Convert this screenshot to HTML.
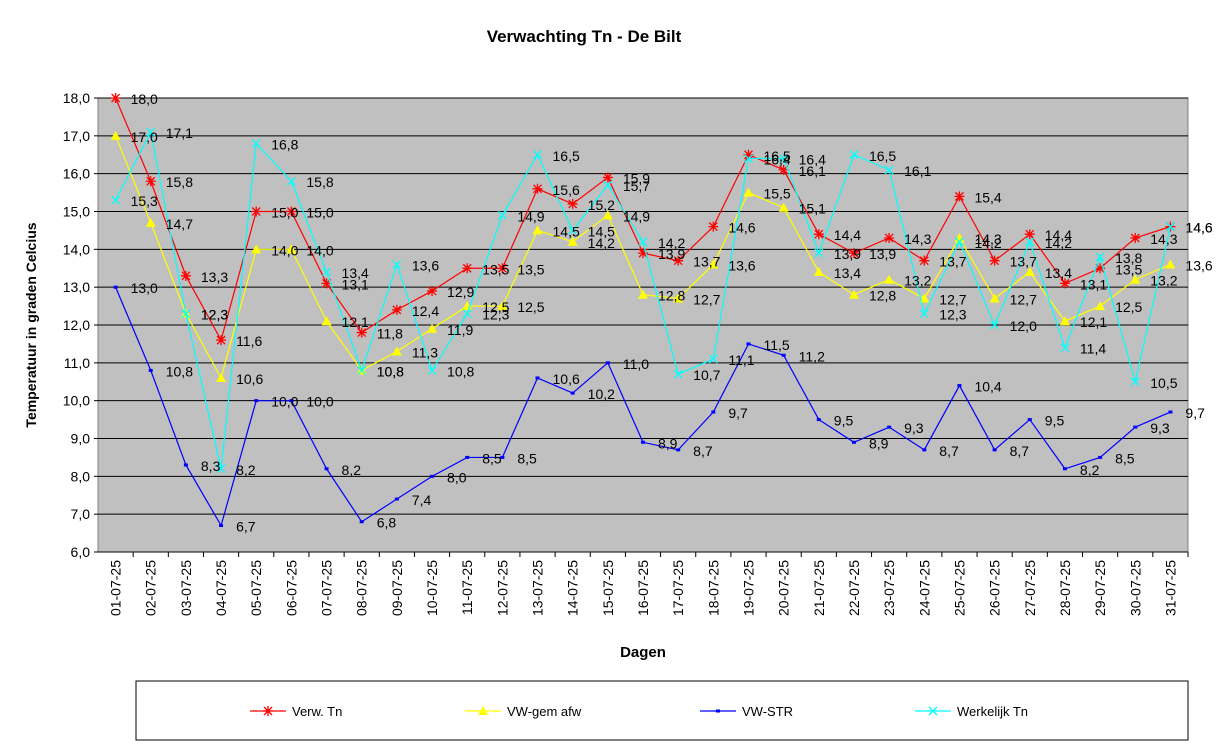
<!DOCTYPE html>
<html><head><meta charset="utf-8"><style>
body{margin:0;background:#fff;font-family:"Liberation Sans",Arial,sans-serif}
svg text{font-family:"Liberation Sans",Arial,sans-serif}
</style></head><body>
<svg id="c" width="1217" height="747" xmlns="http://www.w3.org/2000/svg">
<text x="584" y="42" text-anchor="middle" font-size="17" font-weight="bold">Verwachting Tn - De Bilt</text>
<rect x="98" y="98" width="1090" height="454" fill="#c0c0c0" stroke="#808080"/>
<g id="grid"></g><g id="axes"></g><g id="series"></g><g id="labels"></g>
<text transform="translate(36,325) rotate(-90)" text-anchor="middle" font-size="14" font-weight="bold">Temperatuur in graden Celcius</text>
<text x="643" y="657" text-anchor="middle" font-size="15" font-weight="bold">Dagen</text>
<rect x="136" y="681" width="1052" height="59" fill="#fff" stroke="#000"/>
<g id="legend"></g>
</svg>
<script>
const days=["01-07-25","02-07-25","03-07-25","04-07-25","05-07-25","06-07-25","07-07-25","08-07-25","09-07-25","10-07-25","11-07-25","12-07-25","13-07-25","14-07-25","15-07-25","16-07-25","17-07-25","18-07-25","19-07-25","20-07-25","21-07-25","22-07-25","23-07-25","24-07-25","25-07-25","26-07-25","27-07-25","28-07-25","29-07-25","30-07-25","31-07-25"];
const verwTn=[18.0,15.8,13.3,11.6,15.0,15.0,13.1,11.8,12.4,12.9,13.5,13.5,15.6,15.2,15.9,13.9,13.7,14.6,16.5,16.1,14.4,13.9,14.3,13.7,15.4,13.7,14.4,13.1,13.5,14.3,14.6];
const vwGem=[17.0,14.7,12.3,10.6,14.0,14.0,12.1,10.8,11.3,11.9,12.5,12.5,14.5,14.2,14.9,12.8,12.7,13.6,15.5,15.1,13.4,12.8,13.2,12.7,14.3,12.7,13.4,12.1,12.5,13.2,13.6];
const vwStr=[13.0,10.8,8.3,6.7,10.0,10.0,8.2,6.8,7.4,8.0,8.5,8.5,10.6,10.2,11.0,8.9,8.7,9.7,11.5,11.2,9.5,8.9,9.3,8.7,10.4,8.7,9.5,8.2,8.5,9.3,9.7];
const werkTn=[15.3,17.1,12.3,8.2,16.8,15.8,13.4,10.8,13.6,10.8,12.3,14.9,16.5,14.5,15.7,14.2,10.7,11.1,16.4,16.4,13.9,16.5,16.1,12.3,14.2,12.0,14.2,11.4,13.8,10.5,14.6];
const yTicks=[6,7,8,9,10,11,12,13,14,15,16,17,18];
const NS="http://www.w3.org/2000/svg";
const L=98,T=98,W=1090,H=454,ymin=6,ymax=18;
const X=i=>L+(i+0.5)*W/days.length;
const Y=v=>T+H-(v-ymin)/(ymax-ymin)*H;
function mk(p,tag,a){const e=document.createElementNS(NS,tag);for(const k in a)e.setAttribute(k,a[k]);p.appendChild(e);return e;}
const g=document.getElementById('grid'),ax=document.getElementById('axes'),sg=document.getElementById('series'),lg=document.getElementById('labels'),leg=document.getElementById('legend');
yTicks.forEach(t=>{
 const l=mk(g,'line',{x1:L,x2:L+W,y1:Y(t),y2:Y(t),stroke:'#000','stroke-width':1});
 
 
 const tx=mk(ax,'text',{x:L-8,y:Y(t)+5,'text-anchor':'end','font-size':14});
 tx.textContent=t.toFixed(1).replace('.',',');
 
 
 mk(ax,'line',{x1:L-4,x2:L,y1:Y(t),y2:Y(t),stroke:'#000'});
});
days.forEach((d,i)=>{
 const xe=L+(i+1)*W/days.length;
 mk(ax,'line',{x1:xe,x2:xe,y1:T+H,y2:T+H+5,stroke:'#000'});
 const tx=mk(ax,'text',{transform:`translate(${X(i)+5},${T+H+8}) rotate(-90)`,'text-anchor':'end','font-size':14});
 tx.textContent=d;
 
 
});
function marker(p,type,x,y,c){
 if(type==='star'){mk(p,'path',{d:`M${x-5},${y}h10M${x},${y-5}v10M${x-4},${y-4}l8,8M${x-4},${y+4}l8,-8`,stroke:c,'stroke-width':1.3});}
 else if(type==='tri'){mk(p,'path',{d:`M${x},${y-5}L${x+5},${y+4}L${x-5},${y+4}Z`,fill:c});}
 else if(type==='dash'){mk(p,'rect',{x:x-2,y:y-1.5,width:4,height:3,fill:c});}
 else {mk(p,'path',{d:`M${x-4},${y-4}l8,8M${x-4},${y+4}l8,-8`,stroke:c,'stroke-width':1.3});}
}
const series=[[verwTn,'#ff0000','star','Verw. Tn','series-verw-tn'],[vwGem,'#ffff00','tri','VW-gem afw','series-vw-gem-afw'],[vwStr,'#0000ff','dash','VW-STR','series-vw-str'],[werkTn,'#00ffff','x','Werkelijk Tn','series-werkelijk-tn']];
series.forEach(([vals,c,m,name,dn],si)=>{
 const grp=mk(sg,'g',{});
 
 
 mk(grp,'polyline',{points:vals.map((v,i)=>X(i)+','+Y(v)).join(' '),fill:'none',stroke:c,'stroke-width':1.2});
 vals.forEach((v,i)=>{
  marker(grp,m,X(i),Y(v),c);
  const t=mk(lg,'text',{x:X(i)+15,y:Y(v)+6,'font-size':14});
  t.textContent=v.toFixed(1).replace('.',',');
  
  
 });
 const lx=[250,465,700,915][si],ly=711;
 const e=mk(leg,'g',{});
 
 
 mk(e,'line',{x1:lx,x2:lx+36,y1:ly,y2:ly,stroke:c,'stroke-width':1.2});
 marker(e,m,lx+18,ly,c);
 const t=mk(e,'text',{x:lx+42,y:ly+5,'font-size':13});
 t.textContent=name;
});
</script>
</body></html>
